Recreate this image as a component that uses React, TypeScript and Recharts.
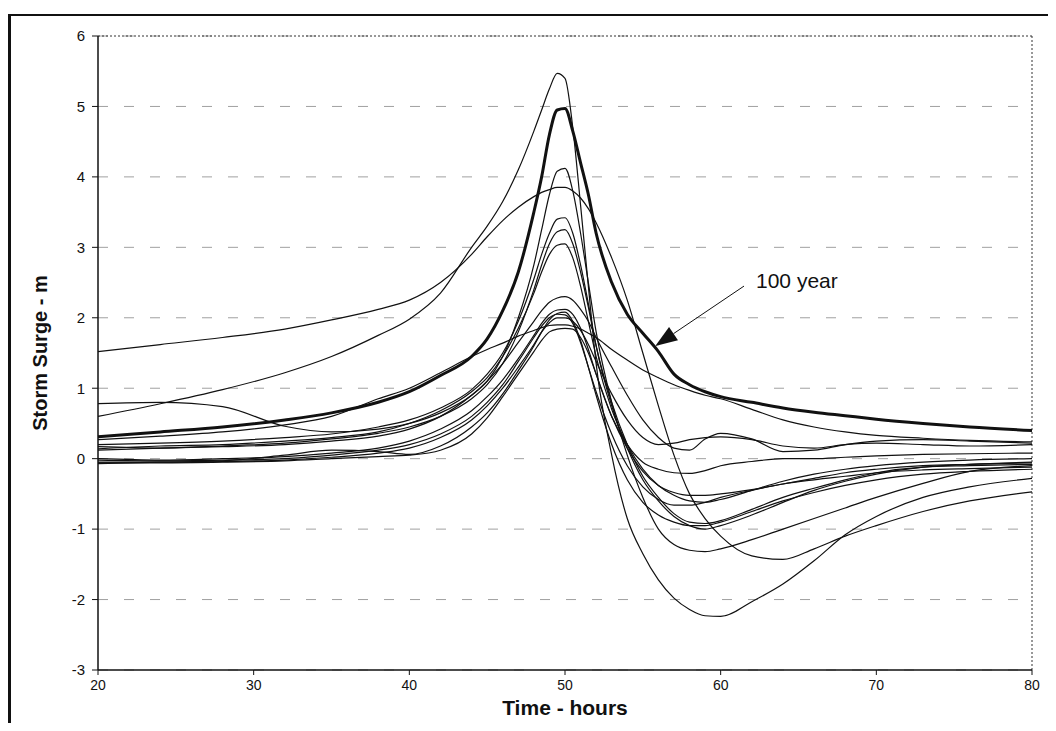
import { CartesianGrid, Label, Line, LineChart, ReferenceLine, XAxis, YAxis } from 'recharts';

// time axis shared by every run (hours)
const hours = [
  20, 24, 28, 32, 35, 38, 40, 42, 44, 45, 46, 47, 48, 48.5, 49, 49.5, 50, 50.5, 51, 51.5, 52, 53, 54,
  55, 56, 57, 58, 59, 60, 62, 64, 66, 68, 70, 73, 76, 80,
];

// storm surge (m) per simulated storm
const broadStorm = [
  1.52, 1.62, 1.72, 1.84, 1.97, 2.12, 2.25, 2.5, 2.9, 3.15, 3.38, 3.57, 3.72, 3.78, 3.82, 3.85, 3.85, 3.8, 3.7,
  3.55, 3.35, 2.85, 2.25, 1.5, 0.75, 0.05, -0.5, -0.85, -1.1, -1.38, -1.43, -1.28, -1.1, -0.95, -0.75, -0.6, -0.47,
];
const sharpStorm = [
  0.6, 0.78, 0.98, 1.22, 1.45, 1.75, 1.98, 2.35, 3.0, 3.3, 3.65, 4.1, 4.65, 4.95, 5.25, 5.47, 5.4, 4.7, 3.6,
  2.45, 1.35, 0.05, -0.85, -1.35, -1.72, -1.98, -2.14, -2.23, -2.24, -2.03, -1.78, -1.45, -1.08, -0.82, -0.55, -0.4, -0.28,
];
const hundredYear = [
  0.31, 0.38, 0.45, 0.55, 0.65, 0.8, 0.95, 1.18, 1.45, 1.7, 2.1, 2.65, 3.5, 4.0, 4.6, 4.95, 4.97, 4.65, 4.2,
  3.75, 3.2, 2.5, 2.05, 1.78, 1.52, 1.2, 1.05, 0.95, 0.88, 0.8, 0.72, 0.66, 0.61, 0.56, 0.5, 0.45, 0.4,
];
const slowDecay = [
  0.27, 0.32, 0.38, 0.48, 0.6, 0.85, 1.0, 1.22, 1.45, 1.55, 1.64, 1.74, 1.82, 1.86, 1.89, 1.9, 1.9, 1.88, 1.84,
  1.78, 1.72, 1.55, 1.4, 1.26, 1.15, 1.05, 0.97, 0.9, 0.85, 0.7, 0.55, 0.45, 0.38, 0.33, 0.29, 0.26, 0.24,
];
const storm415 = [
  0.78, 0.8, 0.74, 0.46, 0.38, 0.42, 0.5, 0.65, 0.9, 1.1, 1.45, 2.0, 2.75, 3.25, 3.75, 4.08, 4.12, 3.8, 3.2,
  2.5, 1.8, 0.8, 0.05, -0.55, -1.0, -1.22, -1.3, -1.32, -1.28, -1.15, -1.0, -0.85, -0.7, -0.55, -0.35, -0.18, -0.1,
];
const storm345 = [
  0.2, 0.22, 0.25, 0.3, 0.35, 0.45, 0.55, 0.72, 0.98, 1.2, 1.5, 1.95, 2.55, 2.9, 3.2, 3.4, 3.42, 3.2, 2.75,
  2.2, 1.6, 0.75, 0.15, -0.3, -0.6, -0.82, -0.95, -1.0, -0.95, -0.8, -0.62, -0.45, -0.32, -0.22, -0.12, -0.08, -0.05,
];
const storm325 = [
  0.17, 0.15, 0.18, 0.22, 0.28, 0.36, 0.45, 0.6, 0.85, 1.05, 1.35, 1.8, 2.4, 2.75, 3.05, 3.22, 3.25, 3.05, 2.65,
  2.15, 1.6, 0.8, 0.2, -0.25, -0.55, -0.78, -0.9, -0.92, -0.88, -0.72, -0.55, -0.42, -0.3, -0.2, -0.12, -0.1, -0.08,
];
const storm305 = [
  0.14, 0.18, 0.2, 0.25, 0.3, 0.38, 0.5, 0.68, 0.95, 1.15, 1.45, 1.85, 2.35, 2.65, 2.9, 3.03, 3.05, 2.85, 2.45,
  1.95, 1.45, 0.7, 0.2, -0.15, -0.38, -0.52, -0.6, -0.62, -0.58, -0.45, -0.32, -0.22, -0.15, -0.1, -0.05, -0.02, 0.0,
];
const storm230 = [
  0.12, 0.15, 0.17, 0.2, 0.25, 0.32, 0.42, 0.6, 0.9, 1.1, 1.35, 1.65, 1.95, 2.1, 2.22, 2.28, 2.3, 2.25, 2.12,
  1.95, 1.72, 1.3, 0.9, 0.55, 0.3, 0.15, 0.12, 0.28, 0.36, 0.28, 0.1, 0.12, 0.2, 0.25, 0.27, 0.25, 0.22,
];
const storm212 = [
  0.0, -0.02, 0.0, 0.03, 0.08, 0.15, 0.25, 0.42, 0.68, 0.88, 1.12, 1.42, 1.75, 1.92, 2.05, 2.11, 2.12, 2.05, 1.85,
  1.55, 1.2, 0.6, 0.2, -0.05, -0.15, -0.2, -0.21, -0.17, -0.1, -0.04, 0.0, 0.0, 0.02, 0.04, 0.06, 0.07, 0.08,
];
const storm205 = [
  -0.02, -0.03, -0.02, 0.0, 0.05, 0.12, 0.2, 0.35, 0.6, 0.8, 1.05, 1.38, 1.72, 1.88, 2.0, 2.05, 2.04, 1.92, 1.65,
  1.3, 0.95, 0.35, -0.1, -0.4, -0.58, -0.66, -0.66, -0.62, -0.55, -0.45, -0.36, -0.3, -0.25, -0.2, -0.16, -0.14, -0.12,
];
const storm200 = [
  -0.05, -0.05, -0.04, -0.02, 0.02, 0.08, 0.15, 0.3, 0.55, 0.75, 1.0, 1.3, 1.62, 1.8, 1.93, 2.0, 2.0, 1.95, 1.82,
  1.62, 1.38, 0.92, 0.55, 0.3, 0.2, 0.22, 0.27, 0.3, 0.31, 0.27, 0.18, 0.15, 0.2, 0.22, 0.2, 0.18, 0.2,
];
const storm185 = [
  -0.06, -0.06, -0.05, -0.03, 0.0, 0.03, 0.05, 0.12, 0.35, 0.58, 0.88, 1.2, 1.52, 1.68, 1.8, 1.84, 1.85, 1.84, 1.72,
  1.5, 1.2, 0.6, 0.15, -0.18, -0.38, -0.48, -0.52, -0.52, -0.5, -0.44, -0.36, -0.28, -0.2, -0.15, -0.1, -0.08, -0.06,
];
const storm208 = [
  -0.07, -0.05, -0.03, 0.05, 0.12, 0.1, 0.06, 0.18, 0.45, 0.65, 0.92, 1.25, 1.6, 1.8, 1.97, 2.06, 2.08, 1.95, 1.68,
  1.3, 0.9, 0.2, -0.3, -0.62, -0.8, -0.9, -0.95, -0.95, -0.9, -0.75, -0.6, -0.48, -0.38, -0.3, -0.22, -0.18, -0.15,
];

const xTicks = [20, 30, 40, 50, 60, 70, 80];
const yTicks = [-3, -2, -1, 0, 1, 2, 3, 4, 5, 6];

// annotation arrow, in data units (tail -> tip)
const arrowTail = { x: 61.5, y: 2.45 };
const arrowTip = { x: 55.8, y: 1.6 };

const SERIES = [
  { key: 'broadStorm', values: broadStorm, width: 1.2 },
  { key: 'sharpStorm', values: sharpStorm, width: 1.2 },
  { key: 'slowDecay', values: slowDecay, width: 1.2 },
  { key: 'storm415', values: storm415, width: 1.2 },
  { key: 'storm345', values: storm345, width: 1.2 },
  { key: 'storm325', values: storm325, width: 1.2 },
  { key: 'storm305', values: storm305, width: 1.2 },
  { key: 'storm230', values: storm230, width: 1.2 },
  { key: 'storm212', values: storm212, width: 1.2 },
  { key: 'storm205', values: storm205, width: 1.2 },
  { key: 'storm200', values: storm200, width: 1.2 },
  { key: 'storm185', values: storm185, width: 1.2 },
  { key: 'storm208', values: storm208, width: 1.2 },
  { key: 'hundredYear', values: hundredYear, width: 3 },
];

const data = hours.map((t, i) => {
  const row: Record<string, number> = { t };
  SERIES.forEach((s) => {
    row[s.key] = s.values[i];
  });
  return row;
});

const INK = '#111';
const FONT = '"Liberation Sans", Arial, sans-serif';

function ArrowShape(props: any) {
  const { x1, y1, x2, y2 } = props;
  const ang = Math.atan2(y2 - y1, x2 - x1);
  const len = 22;
  const half = 8;
  const bx = x2 - len * Math.cos(ang);
  const by = y2 - len * Math.sin(ang);
  const px = -Math.sin(ang) * half;
  const py = Math.cos(ang) * half;
  return (
    <g>
      <line x1={x1} y1={y1} x2={bx} y2={by} stroke={INK} strokeWidth={1} />
      <polygon points={`${x2},${y2} ${bx + px},${by + py} ${bx - px},${by - py}`} fill={INK} />
      <text x={x1 + 12} y={y1 + 2} fontFamily={FONT} fontSize={21} fill={INK}>
        100 year
      </text>
    </g>
  );
}

export default function App() {
  return (
    <div style={{ position: 'relative', width: 1040, height: 715, fontFamily: FONT }}>
      <div
        style={{
          position: 'absolute',
          left: 0,
          top: 6,
          width: 1040,
          height: 709,
          borderLeft: `3px solid ${INK}`,
          borderTop: `2px solid ${INK}`,
          boxSizing: 'border-box',
        }}
      />
      <LineChart
        width={1040}
        height={715}
        data={data}
        margin={{ top: 28, right: 16, bottom: 0, left: 0 }}
        style={{ position: 'relative' }}
      >
        <CartesianGrid vertical={false} stroke="#a0a0a0" strokeDasharray="10 16" />
        <XAxis
          type="number"
          dataKey="t"
          domain={[20, 80]}
          ticks={xTicks}
          height={53}
          tickSize={5}
          tickMargin={5}
          axisLine={{ stroke: INK, strokeWidth: 1.5 }}
          tickLine={{ stroke: INK }}
          tick={{ fill: INK, fontSize: 14, fontFamily: FONT }}
        >
          <Label
            value="Time - hours"
            position="insideBottom"
            offset={8}
            style={{ fill: INK, fontSize: 21, fontWeight: 700, fontFamily: FONT }}
          />
        </XAxis>
        <YAxis
          type="number"
          domain={[-3, 6]}
          ticks={yTicks}
          width={90}
          tickSize={6}
          tickMargin={7}
          axisLine={{ stroke: INK, strokeWidth: 1.5 }}
          tickLine={{ stroke: INK }}
          tick={{ fill: INK, fontSize: 15, fontFamily: FONT }}
        >
          <Label
            value="Storm Surge - m"
            angle={-90}
            position="insideLeft"
            offset={32}
            style={{ textAnchor: 'middle', fill: INK, fontSize: 20, fontWeight: 700, fontFamily: FONT }}
          />
        </YAxis>
        <ReferenceLine y={6} stroke="#333" strokeDasharray="2 2" />
        <ReferenceLine x={80} stroke="#333" strokeDasharray="2 2" />
        {SERIES.map((s) => (
          <Line
            key={s.key}
            dataKey={s.key}
            type="monotone"
            stroke={INK}
            strokeWidth={s.width}
            dot={false}
            activeDot={false}
            isAnimationActive={false}
          />
        ))}
        <ReferenceLine segment={[arrowTail, arrowTip]} shape={ArrowShape} ifOverflow="visible" />
      </LineChart>
    </div>
  );
}
